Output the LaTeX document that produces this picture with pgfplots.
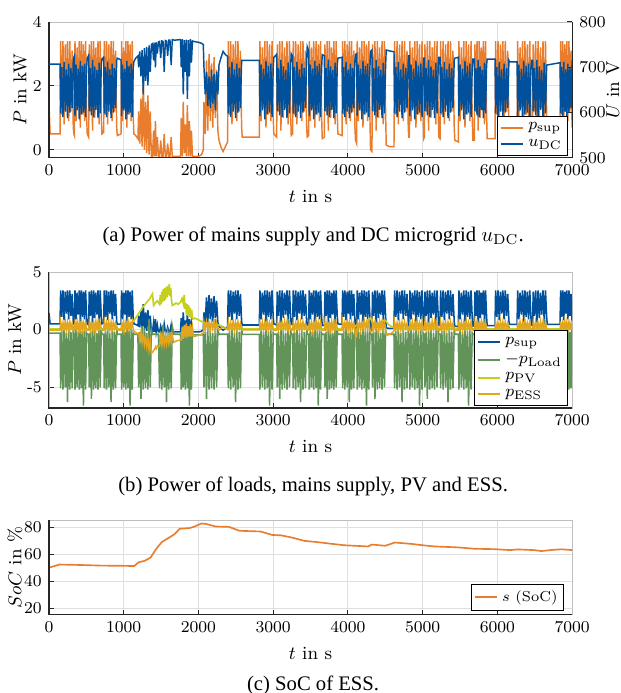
\documentclass[border=0pt]{standalone}
\usepackage{pgfplots}
\pgfplotsset{compat=1.18}
\usepackage{pgfplotstable}
\usepackage{fontspec}
\newfontfamily\capfont{Liberation Serif}

\definecolor{cOr}{RGB}{233,125,46}
\definecolor{cBl}{RGB}{0,80,155}
\definecolor{cGr}{RGB}{98,148,90}
\definecolor{cPV}{RGB}{196,208,28}
\definecolor{cES}{RGB}{225,165,30}
\definecolor{cGrid}{RGB}{223,223,223}
\definecolor{cBox}{RGB}{190,190,190}

\pgfplotstableread{
t ps u pl pe
0 1.45 707 -0.30 0.00
15 0.50 707 -0.30 -0.05
148 0.50 707 -0.30 -0.05
156 3.4 598 -5.1 0.70
171 1.1 700 -0.1 0.00
187 3.4 590 -5.2 0.60
202 0.8 712 0.4 0.10
218 3.3 602 -5.0 0.75
233 1.4 695 -0.3 -0.05
248 3.4 588 -6.3 0.65
264 0.9 708 0.2 0.05
279 3.4 600 -5.2 0.70
294 1.2 698 -0.2 0.10
310 3.1 610 -5.1 0.55
325 0.7 715 0.3 0.00
333 0.50 722 -0.40 -0.05
340 0.45 725 -0.40 -0.05
348 3.4 592 -5.2 0.60
362 0.9 706 0.3 0.10
376 3.2 605 -5.0 0.70
391 1.3 697 -0.2 -0.05
405 3.4 585 -5.2 0.65
419 0.7 714 0.6 0.05
433 3.4 596 -5.1 0.80
447 1.1 703 -0.1 0.00
461 3.3 600 -6.6 0.60
476 0.9 708 0.2 0.10
490 3.4 590 -5.2 0.70
504 1.0 700 -0.3 0.00
512 0.50 720 -0.40 -0.05
531 0.40 726 -0.40 -0.05
539 3.3 603 -5.0 0.65
554 1.2 698 -0.2 0.00
568 3.4 594 -6.0 0.70
583 0.6 716 0.3 0.10
598 3.4 590 -5.2 0.60
612 1.0 702 0.1 0.00
627 3.2 606 -5.1 0.75
642 1.3 694 -0.3 0.05
656 3.4 588 -5.2 0.70
671 0.8 710 0.9 -0.05
685 3.4 598 -5.0 0.60
700 1.1 705 0.0 0.10
708 0.50 718 -0.40 -0.05
732 0.55 722 -0.40 -0.05
740 3.4 598 -5.1 0.70
755 1.1 700 -0.1 0.00
770 3.4 590 -5.2 0.60
785 0.8 712 0.4 0.10
800 3.3 602 -5.0 0.75
815 1.4 695 -0.3 -0.05
831 3.4 588 -6.3 0.65
846 0.9 708 0.2 0.05
861 3.4 600 -5.2 0.70
876 1.2 698 -0.2 0.10
891 3.1 610 -5.1 0.55
906 0.7 715 0.3 0.00
914 0.45 720 -0.40 -0.05
964 0.50 716 -0.40 -0.05
972 3.4 592 -5.2 0.60
986 0.9 706 0.3 0.10
1000 3.2 605 -5.0 0.70
1015 1.3 697 -0.2 -0.05
1029 3.4 585 -5.2 0.65
1043 0.7 714 0.6 0.05
1057 3.4 596 -5.1 0.80
1071 1.1 703 -0.1 0.00
1085 3.3 600 -6.6 0.60
1100 0.9 708 0.2 0.10
1114 3.4 590 -5.2 0.70
1128 1.0 700 -0.3 0.00
1136 0.50 712 -0.40 -0.10
1160 0.45 720 -0.40 -0.25
1190 0.35 725 -0.40 -0.35
1200 1.2 700 -5.0 -0.30
1215 0.2 735 -0.2 -0.90
1231 1.6 680 -6.0 -0.20
1246 0.1 738 0.3 -1.10
1262 2.2 640 -5.2 -0.40
1277 0.0 742 0.1 -1.30
1293 1.5 670 -5.1 -0.60
1308 -0.1 745 -0.3 -1.50
1324 1.7 660 -5.2 -0.80
1339 -0.15 748 0.9 -1.80
1355 1.2 690 -5.0 -1.00
1370 -0.2 750 0.0 -2.00
1385 -0.2 752 -0.40 -2.00
1400 0.6 715 -0.40 -1.80
1410 -0.2 754 -0.40 -1.75
1425 0.9 700 -0.40 -1.50
1435 -0.2 755 -0.40 -1.65
1450 0.4 730 -0.40 -1.40
1465 -0.2 756 -0.40 -1.50
1480 -0.2 757 -5.1 -1.40
1495 0.3 720 -0.1 -0.60
1511 -0.2 758 -5.2 -1.35
1526 -0.2 757 0.4 -0.55
1542 0.5 690 -5.0 -1.30
1557 -0.2 759 -0.3 -0.50
1573 -0.2 758 -6.3 -1.25
1588 0.2 725 0.2 -0.50
1604 -0.2 760 -5.2 -1.20
1619 -0.2 760 -0.2 -0.45
1635 0.4 705 -5.1 -1.15
1650 -0.2 761 0.3 -0.50
1670 -0.2 760 -0.40 -1.10
1700 -0.2 760 -0.40 -1.00
1760 -0.2 761 -0.40 -0.90
1770 1.0 700 -5.2 -0.90
1784 -0.2 762 0.3 0.20
1797 1.5 640 -5.0 -0.80
1811 -0.1 760 -0.2 0.40
1825 0.8 690 -5.2 -0.70
1838 -0.2 761 0.6 0.50
1852 1.4 630 -5.1 -0.70
1866 -0.2 760 -0.1 0.30
1879 0.9 680 -6.6 -0.60
1893 -0.2 762 0.2 0.50
1906 0.6 710 -5.2 -0.60
1920 -0.2 758 -0.3 0.20
1935 -0.2 757 -0.45 -0.60
2000 -0.2 755 -0.45 -0.50
2040 -0.15 753 -0.45 -0.40
2065 0.0 750 -0.45 -0.30
2074 1.5 700 -5.0 0.65
2091 0.5 640 -0.2 0.00
2108 2.8 690 -6.0 0.70
2125 0.6 615 0.3 0.10
2142 3.0 680 -5.2 0.60
2159 0.9 610 0.1 0.00
2175 2.7 695 -5.1 0.75
2192 0.7 620 -0.3 0.05
2209 2.9 685 -5.2 0.70
2226 1.0 605 0.9 -0.05
2243 2.5 690 -5.0 0.60
2260 0.6 640 0.0 0.10
2275 0.30 705 -0.40 -0.05
2300 0.10 720 -0.40 0.10
2330 -0.05 735 -0.40 0.25
2360 0.10 728 -0.40 0.15
2390 0.25 724 -0.40 0.00
2400 3.4 598 -5.1 0.70
2416 1.1 700 -0.1 0.00
2432 3.4 590 -5.2 0.60
2449 0.8 712 0.4 0.10
2465 3.3 602 -5.0 0.75
2481 1.4 695 -0.3 -0.05
2497 3.4 588 -6.3 0.65
2513 0.9 708 0.2 0.05
2529 3.4 600 -5.2 0.70
2546 1.2 698 -0.2 0.10
2562 3.1 610 -5.1 0.55
2578 0.7 715 0.3 0.00
2586 0.40 715 -0.42 -0.02
2815 0.40 715 -0.42 -0.02
2823 3.4 592 -5.2 0.60
2839 0.9 706 0.3 0.10
2855 3.2 605 -5.0 0.70
2872 1.3 697 -0.2 -0.05
2888 3.4 585 -5.2 0.65
2904 0.7 714 0.6 0.05
2920 3.4 596 -5.1 0.80
2936 1.1 703 -0.1 0.00
2952 3.3 600 -6.6 0.60
2969 0.9 708 0.2 0.10
2985 3.4 590 -5.2 0.70
3001 1.0 700 -0.3 0.00
3009 0.50 722 -0.40 -0.05
3047 0.40 728 -0.40 -0.05
3055 3.3 603 -5.0 0.65
3071 1.2 698 -0.2 0.00
3088 3.4 594 -6.0 0.70
3104 0.6 716 0.3 0.10
3120 3.4 590 -5.2 0.60
3136 1.0 702 0.1 0.00
3153 3.2 606 -5.1 0.75
3169 1.3 694 -0.3 0.05
3185 3.4 588 -5.2 0.70
3201 0.8 710 0.9 -0.05
3218 3.4 598 -5.0 0.60
3234 1.1 705 0.0 0.10
3242 0.45 730 -0.40 -0.05
3261 0.50 724 -0.40 -0.05
3269 3.4 598 -5.1 0.70
3285 1.1 700 -0.1 0.00
3302 3.4 590 -5.2 0.60
3318 0.8 712 0.4 0.10
3334 3.3 602 -5.0 0.75
3350 1.4 695 -0.3 -0.05
3367 3.4 588 -6.3 0.65
3383 0.9 708 0.2 0.05
3399 3.4 600 -5.2 0.70
3415 1.2 698 -0.2 0.10
3432 3.1 610 -5.1 0.55
3448 0.7 715 0.3 0.00
3456 0.40 745 -0.40 -0.05
3475 0.45 735 -0.40 -0.05
3483 3.4 592 -5.2 0.60
3498 0.9 706 0.3 0.10
3513 3.2 605 -5.0 0.70
3528 1.3 697 -0.2 -0.05
3543 3.4 585 -5.2 0.65
3558 0.7 714 0.6 0.05
3574 3.4 596 -5.1 0.80
3589 1.1 703 -0.1 0.00
3604 3.3 600 -6.6 0.60
3619 0.9 708 0.2 0.10
3634 3.4 590 -5.2 0.70
3649 1.0 700 -0.3 0.00
3657 0.35 728 -0.40 -0.05
3685 0.40 725 -0.40 -0.05
3693 3.3 603 -5.0 0.65
3708 1.2 698 -0.2 0.00
3723 3.4 594 -6.0 0.70
3738 0.6 716 0.3 0.10
3753 3.4 590 -5.2 0.60
3768 1.0 702 0.1 0.00
3783 3.2 606 -5.1 0.75
3798 1.3 694 -0.3 0.05
3813 3.4 588 -5.2 0.70
3828 0.8 710 0.9 -0.05
3843 3.4 598 -5.0 0.60
3858 1.1 705 0.0 0.10
3866 0.50 720 -0.40 -0.05
3922 0.45 722 -0.40 -0.05
3930 3.4 598 -5.1 0.70
3945 1.1 700 -0.1 0.00
3960 3.4 590 -5.2 0.60
3975 0.8 712 0.4 0.10
3990 3.3 602 -5.0 0.75
4005 1.4 695 -0.3 -0.05
4019 3.4 588 -6.3 0.65
4034 0.9 708 0.2 0.05
4049 3.4 600 -5.2 0.70
4064 1.2 698 -0.2 0.10
4079 3.1 610 -5.1 0.55
4094 0.7 715 0.3 0.00
4102 0.30 728 -0.40 -0.70
4117 0.20 730 -0.40 -0.60
4125 3.4 592 -5.2 0.60
4140 0.9 706 0.3 0.10
4156 3.2 605 -5.0 0.70
4171 1.3 697 -0.2 -0.05
4187 3.4 585 -5.2 0.65
4202 0.7 714 0.6 0.05
4218 3.4 596 -5.1 0.80
4233 1.1 703 -0.1 0.00
4249 3.3 600 -6.6 0.60
4264 0.9 708 0.2 0.10
4280 3.4 590 -5.2 0.70
4295 1.0 700 -0.3 0.00
4303 0.00 735 -0.40 -0.20
4322 -0.05 738 -0.40 -0.20
4330 3.3 603 -5.0 0.65
4346 1.2 698 -0.2 0.00
4362 3.4 594 -6.0 0.70
4378 0.6 716 0.3 0.10
4394 3.4 590 -5.2 0.60
4410 1.0 702 0.1 0.00
4425 3.2 606 -5.1 0.75
4441 1.3 694 -0.3 0.05
4457 3.4 588 -5.2 0.70
4473 0.8 710 0.9 -0.05
4489 3.4 598 -5.0 0.60
4505 1.1 705 0.0 0.10
4513 0.15 738 -0.40 -0.50
4560 0.10 736 -0.40 -0.40
4617 0.10 734 -0.40 -0.15
4625 3.4 598 -5.1 0.70
4642 1.1 700 -0.1 0.00
4658 3.4 590 -5.2 0.60
4675 0.8 712 0.4 0.10
4691 3.3 602 -5.0 0.75
4708 1.4 695 -0.3 -0.05
4725 3.4 588 -6.3 0.65
4741 0.9 708 0.2 0.05
4758 3.4 600 -5.2 0.70
4775 1.2 698 -0.2 0.10
4791 3.1 610 -5.1 0.55
4808 0.7 715 0.3 0.00
4814 0.40 725 -0.40 -0.05
4824 0.40 725 -0.40 -0.05
4830 3.4 592 -5.2 0.60
4846 0.9 706 0.3 0.10
4862 3.2 605 -5.0 0.70
4879 1.3 697 -0.2 -0.05
4895 3.4 585 -5.2 0.65
4911 0.7 714 0.6 0.05
4927 3.4 596 -5.1 0.80
4943 1.1 703 -0.1 0.00
4959 3.3 600 -6.6 0.60
4976 0.9 708 0.2 0.10
4992 3.4 590 -5.2 0.70
5008 1.0 700 -0.3 0.00
5015 0.35 720 -0.40 -0.05
5024 0.40 720 -0.40 -0.05
5031 3.3 603 -5.0 0.65
5047 1.2 698 -0.2 0.00
5063 3.4 594 -6.0 0.70
5080 0.6 716 0.3 0.10
5096 3.4 590 -5.2 0.60
5112 1.0 702 0.1 0.00
5128 3.2 606 -5.1 0.75
5144 1.3 694 -0.3 0.05
5160 3.4 588 -5.2 0.70
5177 0.8 710 0.9 -0.05
5193 3.4 598 -5.0 0.60
5209 1.1 705 0.0 0.10
5217 0.40 722 -0.40 -0.05
5233 0.35 722 -0.40 -0.05
5241 3.4 598 -5.1 0.70
5258 1.1 700 -0.1 0.00
5274 3.4 590 -5.2 0.60
5291 0.8 712 0.4 0.10
5307 3.3 602 -5.0 0.75
5324 1.4 695 -0.3 -0.05
5340 3.4 588 -6.3 0.65
5357 0.9 708 0.2 0.05
5373 3.4 600 -5.2 0.70
5390 1.2 698 -0.2 0.10
5406 3.1 610 -5.1 0.55
5423 0.7 715 0.3 0.00
5431 0.30 720 -0.40 -0.05
5478 0.25 722 -0.40 -0.05
5486 3.4 592 -5.2 0.60
5502 0.9 706 0.3 0.10
5518 3.2 605 -5.0 0.70
5535 1.3 697 -0.2 -0.05
5551 3.4 585 -5.2 0.65
5567 0.7 714 0.6 0.05
5583 3.4 596 -5.1 0.80
5599 1.1 703 -0.1 0.00
5615 3.3 600 -6.6 0.60
5632 0.9 708 0.2 0.10
5648 3.4 590 -5.2 0.70
5664 1.0 700 -0.3 0.00
5672 0.30 718 -0.40 -0.05
5692 0.30 718 -0.40 -0.05
5700 3.3 603 -5.0 0.65
5714 1.2 698 -0.2 0.00
5728 3.4 594 -6.0 0.70
5743 0.6 716 0.3 0.10
5757 3.4 590 -5.2 0.60
5771 1.0 702 0.1 0.00
5785 3.2 606 -5.1 0.75
5799 1.3 694 -0.3 0.05
5813 3.4 588 -5.2 0.70
5828 0.8 710 0.9 -0.05
5842 3.4 598 -5.0 0.60
5856 1.1 705 0.0 0.10
5864 0.35 718 -0.40 -0.05
5969 0.35 718 -0.40 -0.05
5977 3.4 598 -5.1 0.70
5993 1.1 700 -0.1 0.00
6009 3.4 590 -5.2 0.60
6026 0.8 712 0.4 0.10
6042 3.3 602 -5.0 0.75
6058 1.4 695 -0.3 -0.05
6074 3.4 588 -6.3 0.65
6090 0.9 708 0.2 0.05
6106 3.4 600 -5.2 0.70
6123 1.2 698 -0.2 0.10
6139 3.1 610 -5.1 0.55
6155 0.7 715 0.3 0.00
6163 0.45 712 -0.40 -0.05
6264 0.45 712 -0.40 -0.05
6272 3.4 592 -5.2 0.60
6288 0.9 706 0.3 0.10
6304 3.2 605 -5.0 0.70
6321 1.3 697 -0.2 -0.05
6337 3.4 585 -5.2 0.65
6353 0.7 714 0.6 0.05
6369 3.4 596 -5.1 0.80
6385 1.1 703 -0.1 0.00
6401 3.3 600 -6.6 0.60
6418 0.9 708 0.2 0.10
6434 3.4 590 -5.2 0.70
6450 1.0 700 -0.3 0.00
6458 0.40 715 -0.40 -0.05
6472 0.40 715 -0.40 -0.05
6480 3.3 603 -5.0 0.65
6496 1.2 698 -0.2 0.00
6513 3.4 594 -6.0 0.70
6529 0.6 716 0.3 0.10
6545 3.4 590 -5.2 0.60
6562 1.0 702 0.1 0.00
6578 3.2 606 -5.1 0.75
6594 1.3 694 -0.3 0.05
6611 3.4 588 -5.2 0.70
6627 0.8 710 0.9 -0.05
6644 3.4 598 -5.0 0.60
6660 1.1 705 0.0 0.10
6668 0.45 705 -0.40 -0.05
6839 0.45 710 -0.40 -0.05
6847 3.4 598 -5.1 0.70
6861 1.1 700 -0.1 0.00
6875 3.4 590 -5.2 0.60
6889 0.8 712 0.4 0.10
6903 3.3 602 -5.0 0.75
6917 1.4 695 -0.3 -0.05
6930 3.4 588 -6.3 0.65
6944 0.9 708 0.2 0.05
6958 3.4 600 -5.2 0.70
6972 1.2 698 -0.2 0.10
6986 3.1 610 -5.1 0.55
7000 0.7 715 0.3 0.00
}\tblmain

\pgfplotstableread{
t pv
0 0.05
950 0.05
1000 0.15
1050 0.30
1100 0.50
1150 0.90
1200 1.40
1250 1.90
1300 2.30
1350 2.70
1385 3.10
1400 2.10
1420 2.30
1450 2.50
1480 2.20
1490 3.00
1500 2.20
1510 3.30
1520 2.40
1530 3.50
1540 2.50
1550 3.60
1560 2.60
1570 3.70
1580 2.80
1590 3.80
1600 3.00
1610 3.95
1620 2.90
1630 3.60
1640 2.50
1650 2.10
1680 2.20
1700 2.30
1730 2.20
1760 2.40
1780 2.70
1800 2.20
1810 3.00
1820 1.80
1830 2.30
1840 1.30
1850 2.20
1860 1.20
1870 2.10
1880 1.10
1890 1.90
1900 1.00
1910 1.70
1920 0.90
1950 1.00
2000 0.85
2030 0.75
2100 0.55
2200 0.45
2260 0.40
2300 0.35
2350 0.15
2400 0.05
3900 0.05
3950 0.35
4000 0.60
4050 0.45
4100 0.30
4150 0.50
4200 0.40
4250 0.60
4300 1.00
4330 0.60
4400 0.50
4450 0.70
4500 0.80
4550 0.40
4620 0.15
4700 0.05
7000 0.05
}\tblpv

\pgfplotstableread{
t s
0 50.0
140 52.3
400 52.0
700 51.5
930 51.4
1140 51.2
1200 54.0
1280 55.0
1360 57.5
1430 63.5
1510 69.0
1620 72.7
1680 74.8
1750 78.8
1880 79.3
1940 80.3
2040 82.7
2100 82.4
2230 80.5
2410 80.2
2550 77.3
2830 76.8
2990 74.2
3100 74.0
3260 72.2
3420 69.8
3580 69.0
3790 67.6
3950 66.6
4270 65.7
4320 67.1
4500 66.2
4630 68.6
4850 67.6
5000 66.6
5160 65.7
5480 65.0
5690 64.0
5960 63.7
6170 63.0
6270 63.5
6490 63.0
6590 62.3
6750 63.2
6860 63.6
7000 63.0
}\tblsoc

\pgfplotsset{
  base/.style={
    scale only axis, width=253.1pt,
    xmin=0, xmax=7000, xtick={0,1000,...,7000},
    tick align=inside, major tick length=2.5pt,
    tick style={black!85, line width=0.4pt},
    tick label style={font=\fontsize{8}{9}\selectfont},
    label style={font=\fontsize{9}{10}\selectfont},
    /pgf/number format/1000 sep={},
    scaled ticks=false,
    legend image code/.code={\draw[##1, line width=1pt] (0cm,0cm) -- (0.38cm,0cm);},
    legend style={font=\fontsize{8}{9}\selectfont, draw=black, line width=0.5pt, fill=white,
      inner sep=1pt, row sep=-1pt, cells={anchor=west}},
  },
  mystyle/.style={
    base,
    grid=major, major grid style={cGrid, line width=0.4pt},
    axis line style={cBox, line width=0.4pt},
    xtick pos=bottom, ytick pos=left,
    xlabel={$t$ in s},
    extra description/.code={\draw[black!85, line width=0.5pt] (0,1) -- (0,0) -- (1,0);},
  },
}

\begin{document}
\begin{tikzpicture}
\useasboundingbox (0,0) rectangle (300pt,335.3pt);

% (a)
\begin{axis}[mystyle, at={(23.7pt,258.9pt)}, anchor=south west, height=65.8pt,
  ymin=-0.25, ymax=4, ytick={0,2,4}, ylabel={$P$ in kW},
  ylabel style={at={(axis description cs:-0.055,0.5)}, anchor=center}]
\addplot[cOr, line width=0.7pt] table[x=t, y=ps] {\tblmain};
\end{axis}
\begin{axis}[base, at={(23.7pt,258.9pt)}, anchor=south west, height=65.8pt,
  axis x line=none, axis y line*=right, axis line style={black!85, line width=0.5pt},
  ymin=500, ymax=800, ytick={500,600,700,800}, ylabel={$U$ in V},
  ylabel style={at={(axis description cs:1.078,0.5)}, anchor=center, rotate=0},
  legend style={at={(0.993,0.015)}, anchor=south east}]
\addlegendimage{cOr, line width=1pt}
\addlegendentry{$p_{\mathrm{sup}}$}
\addplot[cBl, line width=0.7pt] table[x=t, y=u] {\tblmain};
\addlegendentry{$u_{\mathrm{DC}}$}
\end{axis}

% (b)
\begin{axis}[mystyle, at={(23.7pt,137.9pt)}, anchor=south west, height=65.8pt,
  ymin=-6.8, ymax=5, ytick={-5,0,5}, yticklabels={-5,0,5}, ylabel={$P$ in kW},
  ylabel style={at={(axis description cs:-0.065,0.5)}, anchor=center},
  legend style={at={(0.993,0.015)}, anchor=south east}]
\addplot[cBl, line width=0.75pt] table[x=t, y=ps] {\tblmain};
\addlegendentry{$p_{\mathrm{sup}}$}
\addplot[cGr, line width=0.75pt] table[x=t, y=pl] {\tblmain};
\addlegendentry{$-p_{\mathrm{Load}}$}
\addplot[cPV, line width=0.8pt] table[x=t, y=pv] {\tblpv};
\addlegendentry{$p_{\mathrm{PV}}$}
\addplot[cES, line width=0.7pt] table[x=t, y=pe] {\tblmain};
\addlegendentry{$p_{\mathrm{ESS}}$}
\end{axis}

% (c)
\begin{axis}[mystyle, at={(23.7pt,37.8pt)}, anchor=south west, height=45.7pt,
  ymin=15, ymax=85, ytick={20,40,60,80}, ylabel={$SoC$ in \%},
  ylabel style={at={(axis description cs:-0.065,0.5)}, anchor=center},
  legend style={at={(0.985,0.04)}, anchor=south east, font=\fontsize{7}{8}\selectfont}]
\addplot[cOr, line width=0.8pt] table[x=t, y=s] {\tblsoc};
\addlegendentry{$s$ (SoC)}
\end{axis}

\node[font=\capfont\fontsize{10}{12}\selectfont] at (151.5pt,221.1pt) {(a) Power of mains supply and DC microgrid $u_{\mathrm{DC}}$.};
\node[font=\capfont\fontsize{10}{12}\selectfont] at (151.5pt,99.7pt) {(b) Power of loads, mains supply, PV and ESS.};
\node[font=\capfont\fontsize{10}{12}\selectfont] at (151.5pt,3.9pt) {(c) SoC of ESS.};
\end{tikzpicture}
\end{document}
